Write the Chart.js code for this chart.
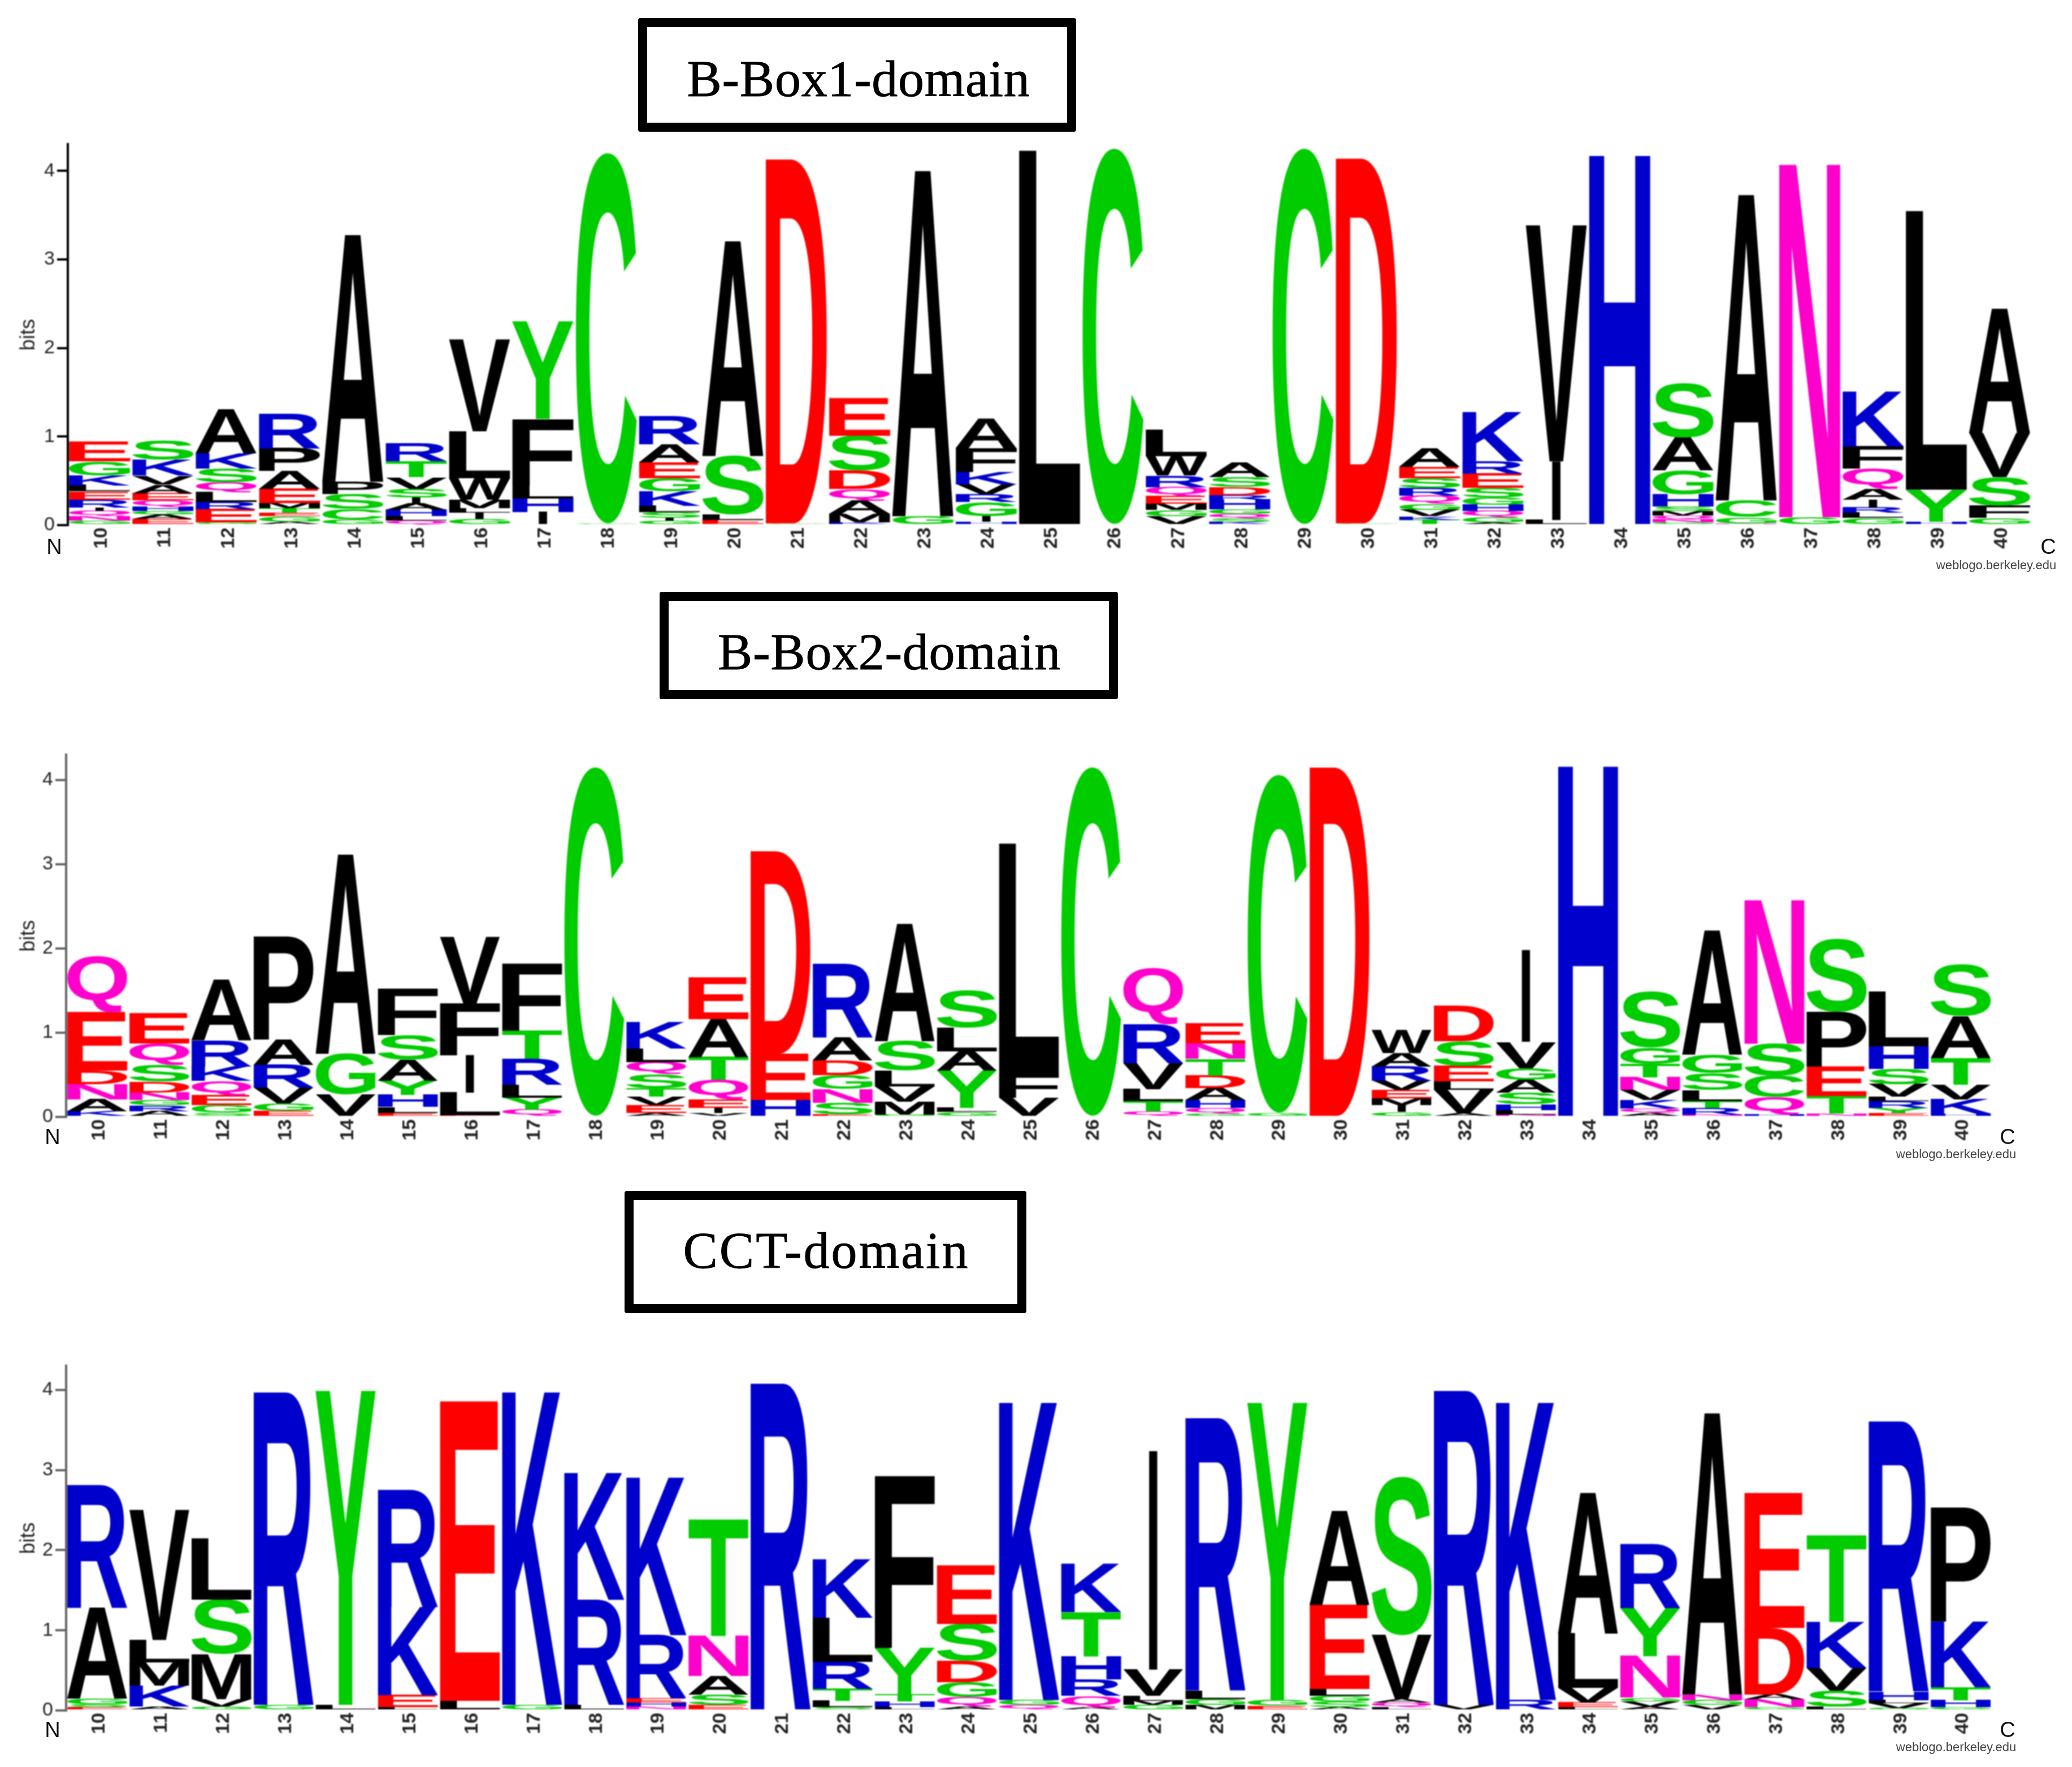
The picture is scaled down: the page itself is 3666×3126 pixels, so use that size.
<!DOCTYPE html>
<html>
<head>
<meta charset="utf-8">
<title>Sequence logos</title>
<script src="https://cdn.jsdelivr.net/npm/chart.js@4/dist/chart.umd.js"></script>
<style>
  html, body { margin: 0; background: #fff; }
  #page { position: relative; width: 3666px; height: 3126px; overflow: hidden; background: #fff; }
  canvas { position: absolute; left: 0; filter: blur(0.8px); }
  .domain {
    position: absolute; box-sizing: border-box; border: 16px solid #000; border-radius: 4px;
    background: #fff; display: flex; align-items: center; justify-content: center;
    font-family: "Liberation Serif", serif; font-size: 92px; color: #000; white-space: nowrap;
    -webkit-text-stroke: 0.8px #000;
  }
  .end, .source { position: absolute; font-family: "Liberation Sans", sans-serif; transform: translate(-50%, -50%); white-space: nowrap; filter: blur(0.6px); }
  .end { font-size: 38px; color: #111; }
  .source { font-size: 22px; color: #444; }
</style>
</head>
<body>
<div id="page">
  <div class="domain" style="left:1129px;top:32px;width:775px;height:201px;padding:13px 0 0 5px;letter-spacing:0.7px">B-Box1-domain</div>
  <div class="domain" style="left:1167px;top:1047px;width:811px;height:190px;padding:22px 0 0 2px;letter-spacing:0.7px">B-Box2-domain</div>
  <div class="domain" style="left:1105px;top:2107px;width:711px;height:216px;padding:0 0 6px 3px;letter-spacing:3px">CCT-domain</div>
  <canvas id="box1"></canvas>
  <canvas id="box2"></canvas>
  <canvas id="cct"></canvas>
  <span class="end" style="left:96px;top:967px">N</span>
  <span class="end" style="left:3624px;top:967px">C</span>
  <span class="source" style="left:3532px;top:1000px">weblogo.berkeley.edu</span>
  <span class="end" style="left:93px;top:2011px">N</span>
  <span class="end" style="left:3552px;top:2011px">C</span>
  <span class="source" style="left:3461px;top:2042px">weblogo.berkeley.edu</span>
  <span class="end" style="left:93px;top:3060px">N</span>
  <span class="end" style="left:3552px;top:3060px">C</span>
  <span class="source" style="left:3461px;top:3091px">weblogo.berkeley.edu</span>
</div>
<script>
"use strict";

const positions = [10,11,12,13,14,15,16,17,18,19,20,21,22,23,24,25,26,27,28,29,30,31,32,33,34,35,36,37,38,39,40];
const bitTicks = [0,1,2,3,4];

// every column is read bottom to top
const box1Letters = ['GNQIRELKGE','EAGHQEAVKS','GERLQSKA','AGETMEAPR','GCSPA','QLHAISVTR','GILMWLV','IHLFY','GC','GISLKGEAR','ELSA','GD','KMAQDSE','GA','HIGRVKFA','L','C','VGMEQRWL','KSQGHRDSA','C','GD','TKVGQRSEA','AGQHGSERK','LIV','H','GNQMSHGAS','NGCA','GN','GLRIAQFK','HYL','GFSVA'];
const box1Bits = [
  [.05,.05,.06,.04,.09,.09,.07,.11,.16,.22],[.07,.05,.04,.05,.07,.08,.1,.1,.18,.22],[.03,.15,.08,.11,.11,.16,.17,.5],[.04,.06,.04,.05,.06,.16,.2,.26,.39],
  [.06,.12,.17,.14,2.78],[.05,.05,.07,.07,.07,.1,.13,.18,.2],[.07,.07,.05,.1,.24,.53,1.03],[.15,.15,.15,.75,1.1],
  [.02,4.17],[.05,.03,.07,.07,.16,.15,.18,.2,.32],[.06,.06,.66,2.42],[.02,4.1],[.03,.1,.15,.13,.21,.39,.42],[.1,3.89],[.04,.06,.16,.09,.11,.14,.27,.33],
  [4.22],[4.24],[.1,.07,.07,.09,.1,.13,.22,.3],[.04,.04,.05,.05,.11,.05,.09,.11,.16],[4.24],[.02,4.11],
  [.06,.04,.07,.07,.09,.09,.11,.13,.21],[.03,.06,.07,.07,.08,.11,.16,.14,.55],[.06,.66,2.66],[4.16],[.03,.04,.04,.05,.05,.14,.27,.37,.61],
  [.02,.07,.19,3.44],[.09,3.97],[.08,.06,.06,.09,.12,.23,.25,.62],[.04,.36,3.14],[.08,.14,.32,.5,1.4]
];

const box2Letters = ['KANDEQ','ARGNDSQE','SGEQKRA','EGVRAP','VGA','ELHYASF','ELIFV','QYLRTF','C','AEVTSQLK','VIEQTAE','HED','ESNGDAR','GMVLSA','GLYALS','VFL','C','QTLVRQ','GQHADTNE','GC','D','GIMEVRAW','AVLESD','NLHSAGVI','H','AQKVNTGS','NRTLSGA','HQCSN','NTEPS','EYRLVSHL','HKVTAS'];
const box2Bits = [
  [.07,.14,.18,.16,.69,.67],[.07,.07,.06,.09,.13,.2,.25,.36],[.05,.09,.12,.17,.17,.31,.72],[.07,.09,.19,.27,.3,1.22],[.27,.48,2.36],[.05,.07,.14,.17,.25,.29,.55],
  [.02,.27,.44,.62,.79],[.09,.14,.15,.31,.33,.8],[4.14],[.05,.09,.1,.1,.17,.14,.16,.32],[.05,.06,.1,.23,.27,.45,.5],[.2,.55,2.4],[.03,.14,.16,.17,.17,.27,.87],
  [.03,.15,.18,.19,.35,1.39],[.06,.05,.44,.23,.28,.44],[.23,.28,2.73],[4.14],[.07,.12,.14,.31,.46,.67],[.04,.07,.09,.14,.15,.2,.18,.24],[.05,4.0],[4.14],
  [.06,.08,.08,.1,.11,.17,.16,.27],[.05,.27,.1,.19,.29,.42],[.03,.05,.07,.14,.15,.14,.31,1.09],[4.15],[.05,.05,.1,.12,.15,.16,.19,.66],[.03,.08,.08,.13,.2,.22,1.47],
  [.03,.21,.25,.38,1.7],[.04,.21,.35,.65,.86],[.05,.06,.08,.05,.15,.18,.27,.65],[.04,.17,.17,.32,.5,.61]
];

const cctLetters = ['ESGAR','AKMLV','GVMSL','GR','LY','LEKR','LE','GK','LRK','NHERK','ESANT','R','SLTRLK','LHTYF','AQGDSE','QGK','AQRHTK','GMLVI','MGLR','EGY','ASGLEA','LQAVS','VR','RK','LEVLA','AVGNYR','VGNA','GNADE','LSVKT','GVLHR','GHTKP'];
const cctBits = [
  [.04,.04,.07,1.13,1.53],[.05,.26,.29,.28,1.62],[.05,.09,.56,.68,.76],[.07,3.89],[.07,3.91],[.04,.15,1.1,1.46],[.12,3.73],[.07,3.89],[.07,1.31,1.58],
  [.05,.05,.05,.79,1.96],[.07,.13,.23,.5,1.45],[4.07],[.04,.08,.15,.34,.55,.73],[.04,.07,.09,.58,2.14],[.05,.12,.18,.27,.46,.73],[.07,.06,3.7],[.04,.14,.21,.29,.55,.6],
  [.07,.05,.06,.33,2.72],[.07,.07,.11,3.39],[.06,.07,3.7],[.04,.07,.07,.09,1.05,1.17],[.04,.06,.04,.8,1.97],[.07,3.91],[.13,3.7],[.04,.06,.18,.68,1.75],
  [.05,.06,.05,.52,.6,.8],[.07,.06,.07,3.5],[.04,.1,.06,.83,1.68],[.05,.2,.28,.57,1.08],[.03,.06,.04,.11,3.36],[.04,.09,.16,.82,1.42]
];

const residueColors = {
  A:'#000000', F:'#000000', I:'#000000', L:'#000000', M:'#000000', P:'#000000', V:'#000000', W:'#000000',
  C:'#00cc00', G:'#00cc00', S:'#00cc00', T:'#00cc00', Y:'#00cc00',
  H:'#0000cc', K:'#0000cc', R:'#0000cc',
  D:'#ff0000', E:'#ff0000',
  N:'#ff00cc', Q:'#ff00cc'
};

const glyphFont = 'bold 300px "Liberation Sans"';
const glyphBoxes = {};

// measureText bounds run a little loose, so take the real ink box of a glyph once
function glyphBox(ch) {
  if (glyphBoxes[ch]) return glyphBoxes[ch];
  const probe = document.createElement('canvas');
  probe.width = 500;
  probe.height = 440;
  const ctx = probe.getContext('2d', { willReadFrequently: true });
  ctx.font = glyphFont;
  ctx.textBaseline = 'alphabetic';
  ctx.fillText(ch, 50, 320);
  const ink = ctx.getImageData(0, 0, probe.width, probe.height).data;
  let x0 = probe.width, x1 = 0, y0 = probe.height, y1 = 0;
  for (let y = 0; y < probe.height; y++) {
    for (let x = 0; x < probe.width; x++) {
      if (ink[(y * probe.width + x) * 4 + 3] > 128) {
        x0 = Math.min(x0, x);
        x1 = Math.max(x1, x + 1);
        y0 = Math.min(y0, y);
        y1 = Math.max(y1, y + 1);
      }
    }
  }
  glyphBoxes[ch] = { x0, y0, w: x1 - x0, h: y1 - y0 };
  return glyphBoxes[ch];
}

// stretches each residue glyph to fill the bar the stacked scale computed for it
const letterPlugin = {
  id: 'letters',
  afterDatasetsDraw(chart) {
    const ctx = chart.ctx;
    chart.data.datasets.forEach((dataset, i) => {
      chart.getDatasetMeta(i).data.forEach((bar, col) => {
        const ch = dataset.residues[col];
        if (!ch) return;
        const box = glyphBox(ch);
        const top = Math.min(bar.y, bar.base);
        const height = Math.abs(bar.base - bar.y);
        const width = ch === 'I' ? bar.width * 0.13 : bar.width * 0.96;
        ctx.save();
        ctx.font = glyphFont;
        ctx.textAlign = 'left';
        ctx.textBaseline = 'alphabetic';
        ctx.fillStyle = residueColors[ch];
        ctx.translate(bar.x - width / 2, top);
        ctx.scale(width / box.w, height / box.h);
        ctx.fillText(ch, 50 - box.x0, 320 - box.y0);
        ctx.restore();
      });
    });
  }
};

function drawLogo(id, letters, bits, frame) {
  const canvas = document.getElementById(id);
  const margin = 20;
  const below = 60;
  canvas.width = 3666;
  canvas.height = frame.bottom - frame.top + margin + below;
  canvas.style.width = canvas.width + 'px';
  canvas.style.height = canvas.height + 'px';
  canvas.style.top = (frame.top - margin) + 'px';

  const depth = Math.max(...bits.map(col => col.length));
  const datasets = [];
  for (let i = 0; i < depth; i++) {
    datasets.push({
      data: bits.map(col => col[i] || 0),
      residues: letters.map(col => col[i] || ''),
      backgroundColor: 'transparent',
      borderWidth: 0,
      barPercentage: 1,
      categoryPercentage: 1
    });
  }

  new Chart(canvas, {
    type: 'bar',
    data: { labels: positions, datasets },
    plugins: [letterPlugin],
    options: {
      responsive: false,
      animation: false,
      devicePixelRatio: 1,
      layout: { padding: { top: margin, right: 3666 - frame.right, left: 0, bottom: 0 } },
      plugins: { legend: { display: false }, tooltip: { enabled: false } },
      scales: {
        x: {
          stacked: true,
          grid: { display: false, drawTicks: false },
          border: { display: false },
          ticks: {
            autoSkip: false, minRotation: 90, maxRotation: 90, padding: 4, labelOffset: 4,
            color: '#222', font: { family: 'Liberation Sans', size: 34, weight: 'bold' }
          },
          afterFit(scale) { scale.height = below; }
        },
        y: {
          stacked: true,
          min: 0,
          max: 4.3,
          title: {
            display: true, text: 'bits', color: '#222', padding: { top: 29, bottom: 0 },
            font: { family: 'Liberation Sans', size: 36 }
          },
          grid: { drawOnChartArea: false, drawTicks: true, tickLength: 19, color: frame.axis, lineWidth: 4 },
          border: { display: true, color: frame.axis, width: 4 },
          ticks: {
            includeBounds: false, stepSize: 1, padding: 4, color: '#222',
            font: { family: 'Liberation Sans', size: 34 },
            callback: value => bitTicks.includes(value) ? value : ''
          },
          afterFit(scale) { scale.width = frame.left; }
        }
      }
    }
  });
}

drawLogo('box1', box1Letters.map(s => s.split('')), box1Bits, { left: 120, right: 3594, top: 251, bottom: 929, axis: '#000' });
drawLogo('box2', box2Letters.map(s => s.split('')), box2Bits, { left: 117, right: 3524, top: 1331, bottom: 1976, axis: '#666' });
drawLogo('cct', cctLetters.map(s => s.split('')), cctBits, { left: 117, right: 3524, top: 2412, bottom: 3026, axis: '#666' });
</script>
</body>
</html>
